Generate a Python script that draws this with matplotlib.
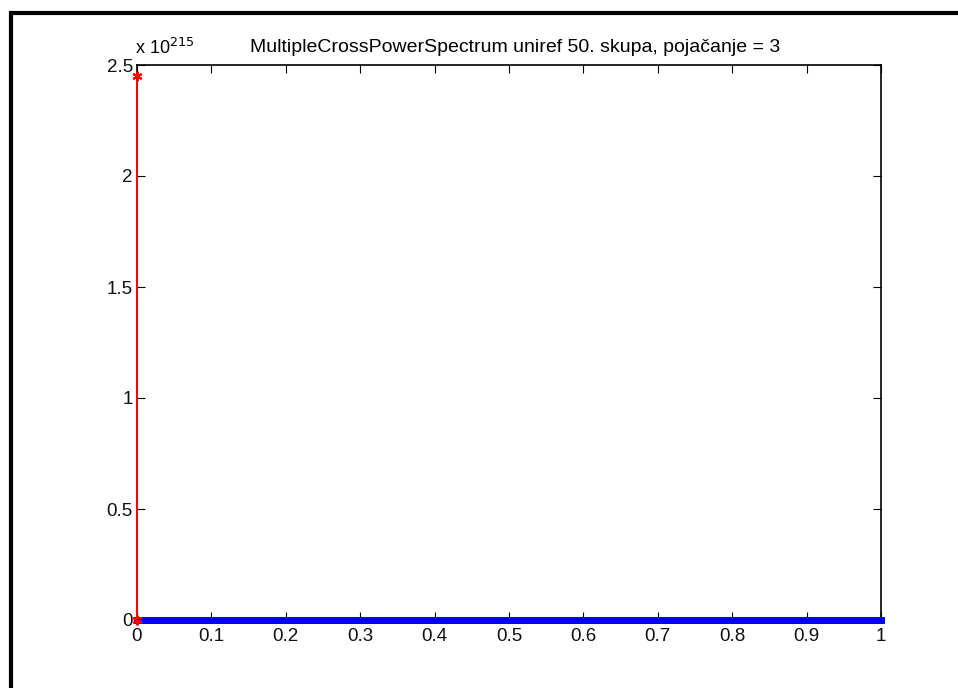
import numpy as np
import matplotlib.pyplot as plt
from matplotlib.patches import Rectangle

# frequency axis (normalised) and spectrum values
freq = np.linspace(0, 1, 201)
spectrum = np.zeros_like(freq)
peak_x = [0.0, 0.0]
peak_y = [0.0, 2.45e215]
scale = 1e215

xticks = [0, 0.1, 0.2, 0.3, 0.4, 0.5, 0.6, 0.7, 0.8, 0.9, 1]
yticks = [0, 0.5, 1, 1.5, 2, 2.5]

plt.rcParams['font.family'] = ['Liberation Sans', 'DejaVu Sans']

fig = plt.figure(figsize=(9.58, 6.88), dpi=100)
ax = fig.add_axes([137 / 958, 1 - 620 / 688, 744 / 958, 555 / 688])

# outer frame of the screenshot
fig.patches.append(Rectangle((11 / 958, -0.05), 1.1, 1 - 13 / 688 + 0.05,
                             transform=fig.transFigure, fill=False,
                             edgecolor='black', linewidth=3))

ax.plot(freq, spectrum / scale, color='blue', linewidth=5, marker='o',
        markersize=4, clip_on=False, zorder=3)
ax.plot(peak_x, np.array(peak_y) / scale, color='red', linewidth=1.5,
        marker=(6, 2, 0), markersize=7, markeredgewidth=1.5, clip_on=False, zorder=4)
ax.axhline(0, color='black', linewidth=2, zorder=5)

ax.set_xlim(0, 1)
ax.set_ylim(0, 2.5)
ax.set_xticks(xticks)
ax.set_xticklabels(['0', '0.1', '0.2', '0.3', '0.4', '0.5', '0.6', '0.7', '0.8', '0.9', '1'])
ax.set_yticks(yticks)
ax.set_yticklabels(['0', '0.5', '1', '1.5', '2', '2.5'])
ax.tick_params(direction='in', top=True, right=True, length=6, labelsize=13.5,
               labelcolor='#111111')
ax.tick_params(axis='x', pad=6)
ax.tick_params(axis='y', pad=3)
for s in ax.spines.values():
    s.set_linewidth(1.2)

ax.set_title('MultipleCrossPowerSpectrum uniref 50. skupa, pojačanje = 3',
             fontsize=14, pad=9, x=0.508)
ax.text(-0.003, 1.012, r'x 10$^{215}$', transform=ax.transAxes, fontsize=13,
        ha='left', va='bottom')

fig.savefig('out.png', dpi=100)
